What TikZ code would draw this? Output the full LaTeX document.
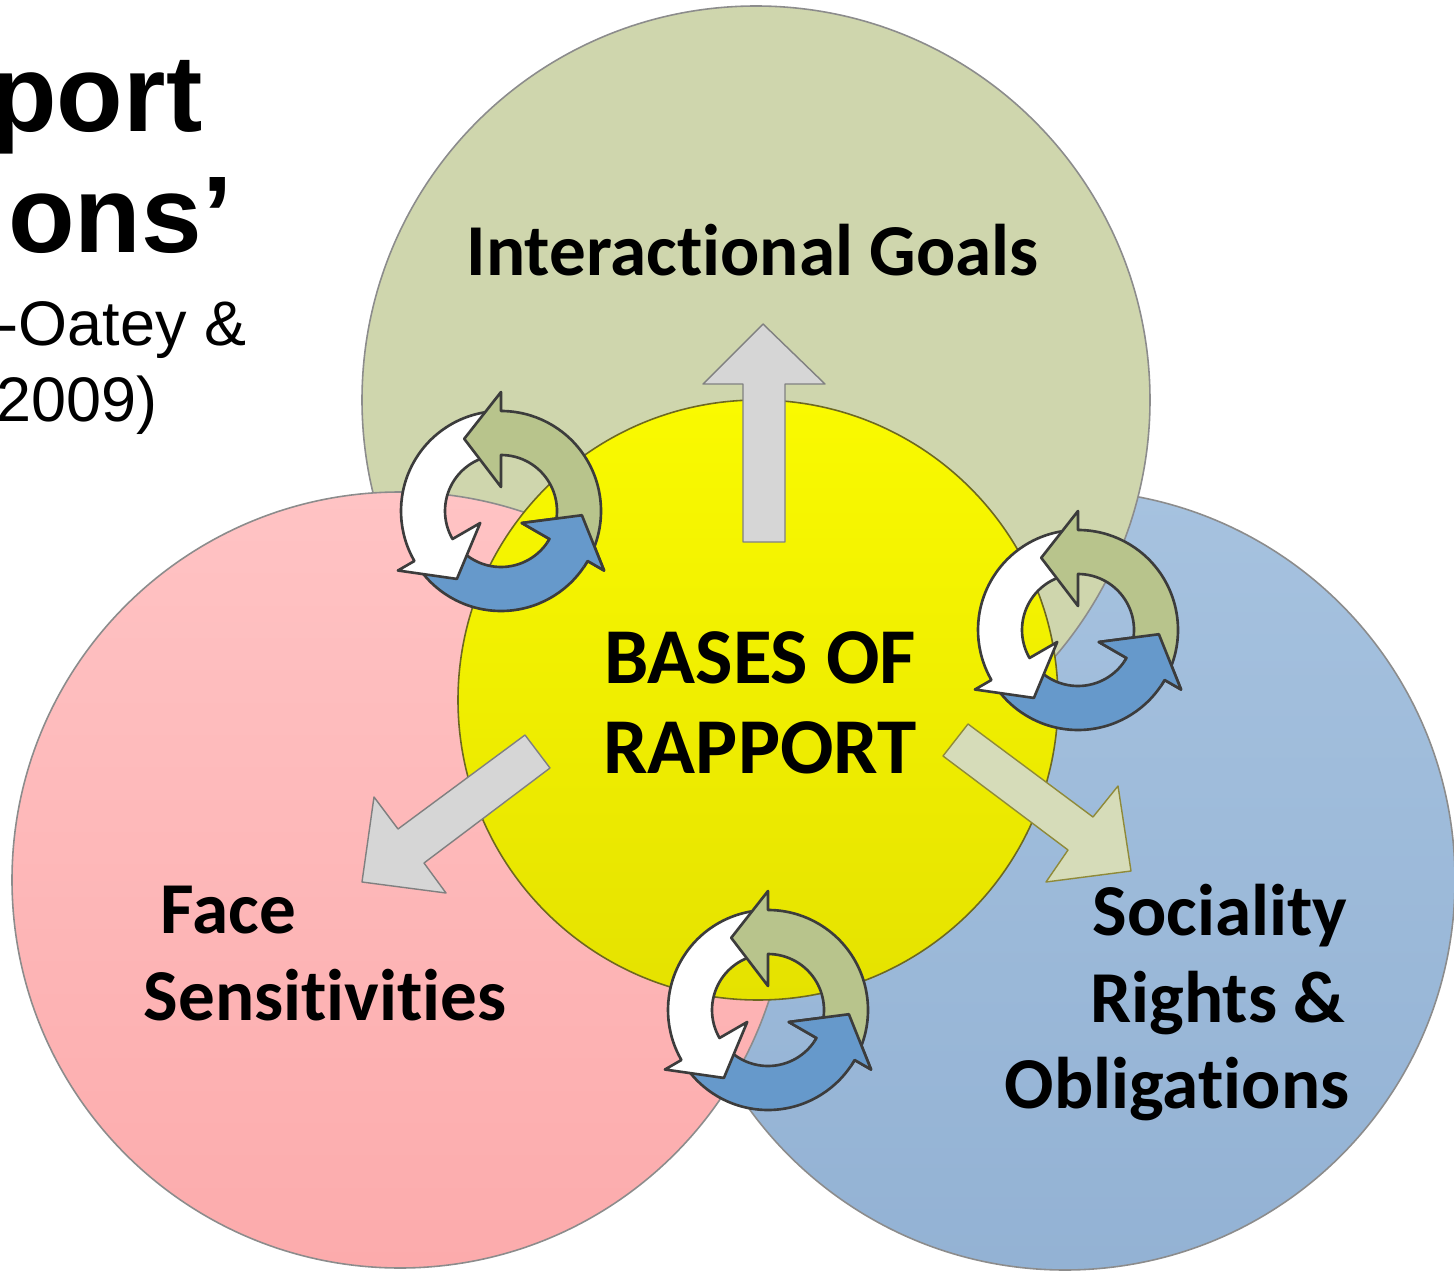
\documentclass[tikz,border=0pt]{standalone}
\usepackage{fontspec}
\setmainfont{Carlito}[Ligatures=NoCommon]
\newfontfamily\arialfont{Liberation Sans}
\definecolor{goalfill}{HTML}{CFD6AD}
\definecolor{facetop}{HTML}{FFC3C4}
\definecolor{facebot}{HTML}{FCABAC}
\definecolor{socitop}{HTML}{A6C2DF}
\definecolor{socibot}{HTML}{93B2D4}
\definecolor{basetop}{HTML}{FAFA00}
\definecolor{basebot}{HTML}{E5E200}
\definecolor{cycgreen}{HTML}{B8C48C}
\definecolor{cycblue}{HTML}{6699CB}
\definecolor{cycline}{HTML}{3C3C3C}
\tikzset{
	zone/.style={draw=gray!90, line width=0.45pt},
	ringarrow/.style={draw=cycline, line width=0.75pt, line join=round},
	lbl/.style={inner sep=0pt, font=\bfseries\fontsize{20.8}{25}\selectfont},
}
% vong mui ten quanh mot tam
\newcommand{\cycleicon}[1]{%
	\begin{scope}[shift={(#1)}, yscale=-1]
		\foreach \b/\col in {330/cycblue, 210/white, 90/cycgreen}{
			\pgfmathsetmacro{\tailang}{\b-115}
			\pgfmathsetmacro{\tipang}{\b+27}
			\filldraw[ringarrow, fill=\col] (\tailang:56) -- (\tailang:100) arc[start angle=\tailang, end angle=\b, radius=100]
				-- (\b:119) -- (\tipang:81) -- (\b:24) -- (\b:56) arc[start angle=\b, end angle=\tailang, radius=56] -- cycle;
		}
		\begin{scope}
			\clip (0,0) -- (326:150) arc[start angle=326, end angle=366, radius=150] -- cycle;
			\filldraw[ringarrow, fill=cycblue] (215:56) -- (215:100) arc[start angle=215, end angle=330, radius=100]
				-- (330:119) -- (357:81) -- (330:24) -- (330:56) arc[start angle=330, end angle=215, radius=56] -- cycle;
		\end{scope}
	\end{scope}}
\begin{document}
\begin{tikzpicture}[x=0.01cm, y=-0.01cm, line join=round]
	\clip (0,0) rectangle (1454,1276);
	\coordinate (G) at (756,400); % tam tron xanh la
	\coordinate (F) at (400,880); % tam tron hong
	\coordinate (S) at (1065,880); % tam tron xanh duong
	\coordinate (B) at (758,700); % tam tron vang
	\draw[zone, top color=socitop, bottom color=socibot] (S) circle (390);
	\draw[zone, fill=goalfill] (G) circle (394);
	\draw[zone, top color=facetop, bottom color=facebot] (F) circle (388);
	\draw[zone, draw=olive!70!black, top color=basetop, bottom color=basebot] (B) circle (300);
	% mui ten khoi
	\filldraw[draw=gray, fill=gray!32] (743,542) -- (743,384) -- (703,384) -- (763,324) -- (825,384) -- (785,384) -- (785,542) -- cycle;
	\filldraw[draw=gray, fill=gray!32] (525,735) -- (398,829) -- (374,797) -- (362,882) -- (446,893) -- (424,863) -- (550,768) -- cycle;
	\filldraw[draw=olive!60!gray, fill=goalfill!85!white] (968,724) -- (1093,817) -- (1118,786) -- (1131,871) -- (1046,882) -- (1068,850) -- (943,756) -- cycle;
	\coordinate (cycTL) at (501,511);
	\coordinate (cycR) at (1078,630);
	\coordinate (cycB) at (768,1010);
	\cycleicon{cycTL}
	\cycleicon{cycR}
	\cycleicon{cycB}
	% chu
	\node[lbl, anchor=base west] (goals) at (466,275) {Interactional Goals};
	\node[lbl, anchor=base, font=\bfseries\fontsize{22.5}{27}\selectfont] (bases) at (760,683) {BASES OF};
	\node[lbl, anchor=base, font=\bfseries\fontsize{22.5}{27}\selectfont] (rapport) at (760,773) {RAPPORT};
	\node[lbl, anchor=base west] (face) at (160,933) {Face};
	\node[lbl, anchor=base west] (sens) at (143,1020) {Sensitivities};
	\node[lbl, anchor=base east] (soc) at (1348,935) {Sociality};
	\node[lbl, anchor=base east] (rights) at (1346,1022) {Rights \&};
	\node[lbl, anchor=base east] (oblig) at (1350,1108) {Obligations};
	\node[inner sep=0pt, anchor=base east, font=\arialfont\bfseries\fontsize{31}{38}\selectfont] (t1) at (203,132) {port};
	\node[inner sep=0pt, anchor=base east, font=\arialfont\bfseries\fontsize{31}{38}\selectfont] (t2) at (233,252) {ions’};
	\node[inner sep=0pt, anchor=base east, font=\arialfont\fontsize{17.9}{22}\selectfont] (t3) at (247,345) {-Oatey \&};
	\node[inner sep=0pt, anchor=base east, font=\arialfont\fontsize{17.9}{22}\selectfont] (t4) at (158,422) {2009)};
\end{tikzpicture}
\end{document}
